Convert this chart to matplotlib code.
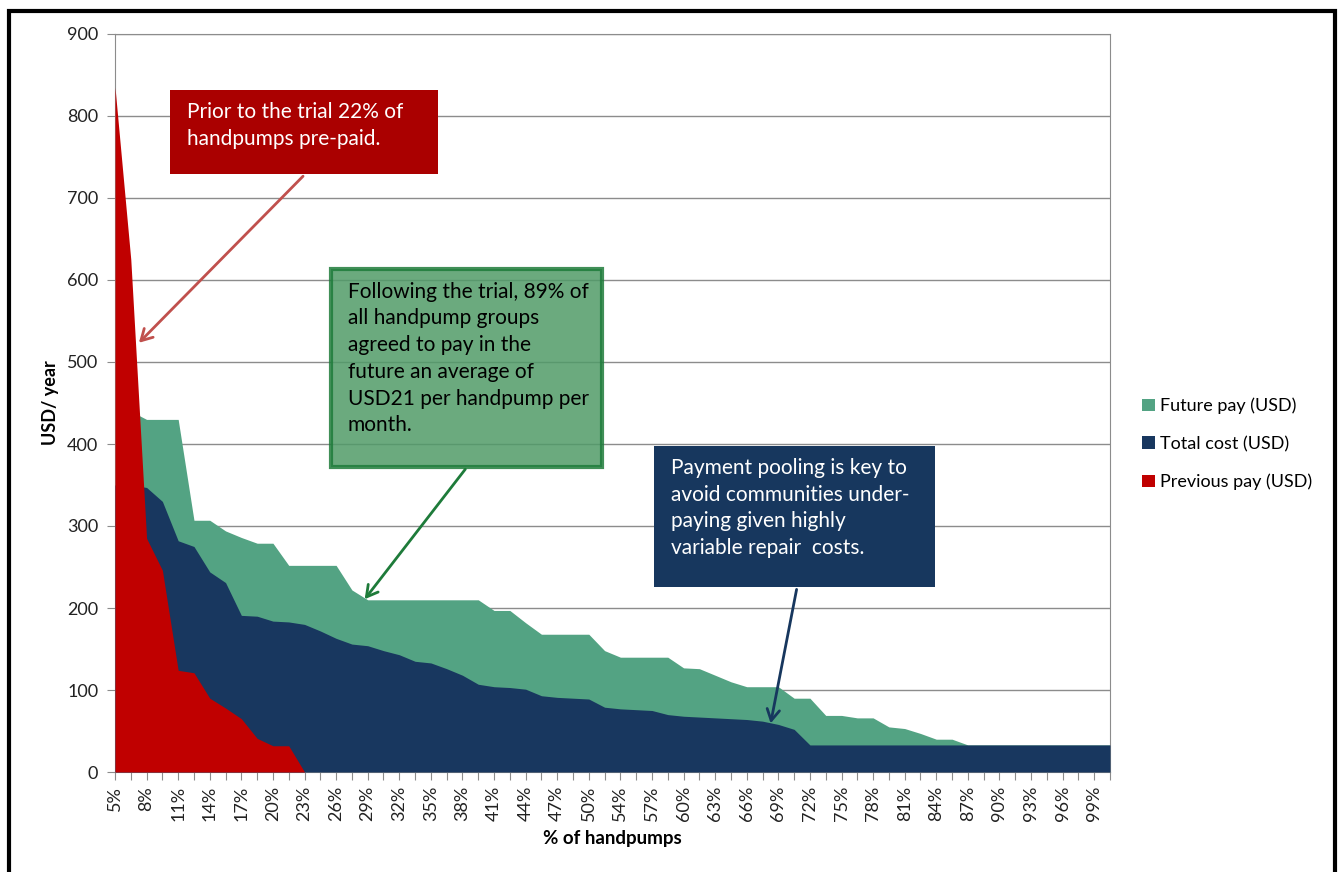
import matplotlib.pyplot as plt
import numpy as np
from matplotlib.patches import Rectangle

plt.rcParams["font.family"] = ["Lato", "DejaVu Sans"]

# ハンドポンプ別の年間費用 (USD/year)、64区分
previous_pay = [835, 625, 285, 246, 124, 121, 90, 78, 65, 41, 32, 32] + [0] * 52
total_cost = [350, 350, 347, 330, 282, 275, 244, 231, 191, 190, 184, 183, 180, 172,
              163, 156, 154, 148, 143, 135, 133, 126, 118, 107, 104, 103, 101, 93,
              91, 90, 89, 79, 77, 76, 75, 70, 68, 67, 66, 65, 64, 62, 58, 52] + [33] * 20
future_pay = [450, 440, 430, 430, 430, 307, 307, 294, 286, 279, 279, 252, 252, 252,
              252, 222, 210, 210, 210, 210, 210, 210, 210, 210, 197, 197, 182, 168,
              168, 168, 168, 148, 140, 140, 140, 140, 127, 126, 118, 110, 104, 104,
              104, 90, 90, 69, 69, 66, 66, 55, 53, 47, 40, 40] + [33] * 10

pct_labels = ["5%", "8%", "11%", "14%", "17%", "20%", "23%", "26%", "29%", "32%",
              "35%", "38%", "41%", "44%", "47%", "50%", "54%", "57%", "60%", "63%",
              "66%", "69%", "72%", "75%", "78%", "81%", "84%", "87%", "90%", "93%",
              "96%", "99%"]

GREEN = "#53A383"
NAVY = "#18375F"
RED = "#C00000"
GRID = "#8C8C8C"

x = np.arange(len(total_cost))

fig = plt.figure(figsize=(13.41, 8.72), dpi=100)
ax = fig.add_axes([115 / 1341, 1 - 772 / 872, 995 / 1341, 738 / 872])

ax.fill_between(x, future_pay, color=GREEN, lw=0, zorder=2, label="Future pay (USD)")
ax.fill_between(x, total_cost, color=NAVY, lw=0, zorder=3, label="Total cost (USD)")
ax.fill_between(x, previous_pay, color=RED, lw=0, zorder=4, label="Previous pay (USD)")

ax.set_xlim(0, len(x) - 1)
ax.set_ylim(0, 900)
ax.set_yticks(range(0, 901, 100))
ax.yaxis.grid(True, color=GRID, lw=1, zorder=1)
ax.set_axisbelow(True)

ax.set_xticks(x)
xlabels = [pct_labels[i // 2] if i % 2 == 0 and i // 2 < len(pct_labels) else "" for i in x]
ax.set_xticklabels(xlabels, rotation=90, fontsize=13, color="#222222")
ax.tick_params(axis="y", labelsize=13, colors="#222222", length=6, color=GRID, pad=6)
ax.tick_params(axis="x", length=6, color=GRID, pad=4)
for s in ax.spines.values():
    s.set_color(GRID)

ax.set_ylabel("USD/ year", fontsize=13, fontweight="bold", labelpad=6)
ax.set_xlabel("% of handpumps", fontsize=13.5, fontweight="bold", labelpad=6)

# 注釈ボックス (データ座標)
def add_box(x0, y0, x1, y1, text, face, edge, tcolor, alpha=1.0, lw=0):
    ax.add_patch(Rectangle((x0, y0), x1 - x0, y1 - y0, facecolor=face, edgecolor=edge,
                           lw=lw, alpha=alpha, zorder=6))
    ax.text(x0 + 1.05, y1 - 15, text, color=tcolor, fontsize=15, va="top", ha="left",
            linespacing=1.42, zorder=7)


add_box(3.48, 729, 20.46, 832, "Prior to the trial 22% of\nhandpumps pre-paid.",
        "#AA0000", "none", "white")
ax.annotate("", xy=(1.39, 521), xytext=(12.03, 729),
            arrowprops=dict(arrowstyle="->,head_length=0.8,head_width=0.45",
                            color="#C0504D", lw=2), zorder=5)

add_box(13.68, 372, 30.84, 613,
        "Following the trial, 89% of\nall handpump groups\nagreed to pay in the\n"
        "future an average of\nUSD21 per handpump per\nmonth.",
        "#519B68", "#1E7B3A", "black", alpha=0.85, lw=3)
ax.annotate("", xy=(15.7, 208), xytext=(22.29, 372),
            arrowprops=dict(arrowstyle="->,head_length=0.8,head_width=0.45",
                            color="#1E7B3A", lw=2), zorder=5)

add_box(34.14, 226, 51.93, 398,
        "Payment pooling is key to\navoid communities under-\npaying given highly\n"
        "variable repair  costs.",
        "#17375E", "none", "white")
ax.annotate("", xy=(41.48, 56), xytext=(43.19, 226),
            arrowprops=dict(arrowstyle="->,head_length=0.8,head_width=0.45",
                            color="#17375E", lw=2), zorder=5)

fig.legend(loc="center left", bbox_to_anchor=(1126 / 1341, 1 - 444 / 872),
           frameon=False, fontsize=13, handlelength=0.7, handleheight=0.7,
           handletextpad=0.3, labelspacing=1.2)

# 外枠
fig.add_artist(Rectangle((9 / 1341, -0.05), 1326 / 1341, 1.05 - 11 / 872,
                         transform=fig.transFigure, fill=False, edgecolor="black", lw=3))

fig.savefig("out.png", dpi=100)
